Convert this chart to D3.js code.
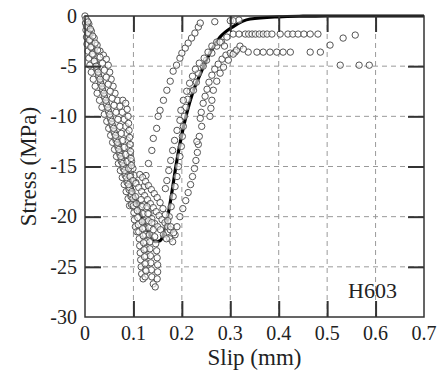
<html>
<head>
  <meta charset="utf-8">
  <script src="https://d3js.org/d3.v7.min.js"></script>
  <style>
    body { margin: 0; background: #fff; }
    svg text { font-family: 'Liberation Serif', 'Times New Roman', Tinos, monospace !important; }
  </style>
</head>
<body>
<script>
// axis ticks
var xTicks = [0, 0.1, 0.2, 0.3, 0.4, 0.5, 0.6, 0.7];
var yTicks = [0, -5, -10, -15, -20, -25, -30];

// model curve (slip mm, stress MPa)
var modelSlip   = [0.07, 0.088, 0.1, 0.12, 0.135, 0.145, 0.155, 0.163, 0.17, 0.176, 0.189, 0.2, 0.21, 0.222, 0.238, 0.258, 0.279, 0.306, 0.341, 0.4, 0.45, 0.5, 0.7];
var modelStress = [-12.4, -15.6, -17.6, -20.4, -21.9, -22.5, -22.4, -21.6, -20.2, -18.6, -14.6, -11.8, -9.7, -7.7, -5.8, -3.7, -2.1, -1.05, -0.3, -0.08, -0.02, 0, 0];

// test points, one array per loop branch: [slip, stress]
var envelope1 = [[0,0],[0.001,-0.7],[0.002,-1.4],[0.003,-2.1],[0.004,-2.8],[0.006,-3.5],[0.008,-4.2],[0.010,-4.9],[0.013,-5.6],[0.017,-6.3],[0.021,-7.0],[0.025,-7.7],[0.030,-8.4],[0.035,-9.1],[0.040,-9.8],[0.045,-10.5],[0.049,-11.2],[0.053,-11.9],[0.057,-12.6],[0.061,-13.3],[0.065,-14.0],[0.069,-14.7],[0.073,-15.4],[0.077,-16.1],[0.081,-16.8],[0.085,-17.5],[0.089,-18.2],[0.092,-18.9]];
var envelope2 = [[0.004,-0.5],[0.007,-1.2],[0.010,-1.9],[0.013,-2.6],[0.016,-3.3],[0.019,-4.0],[0.022,-4.7],[0.025,-5.4],[0.029,-6.1],[0.033,-6.8],[0.037,-7.5],[0.041,-8.2],[0.045,-8.9],[0.049,-9.6],[0.053,-10.3],[0.057,-11.0],[0.061,-11.7],[0.064,-12.4],[0.068,-13.1],[0.072,-13.8],[0.075,-14.5],[0.079,-15.2],[0.083,-15.9],[0.087,-16.6],[0.091,-17.3],[0.095,-18.0],[0.098,-18.7]];
var envelope3 = [[0.008,-0.8],[0.013,-1.5],[0.019,-2.2],[0.025,-2.9],[0.031,-3.5],[0.038,-3.9],[0.044,-4.3],[0.048,-4.9],[0.051,-5.6],[0.054,-6.3],[0.058,-7.0],[0.062,-7.7],[0.067,-8.4],[0.072,-9.0],[0.077,-9.6],[0.081,-10.3],[0.084,-11.0],[0.086,-11.7],[0.088,-12.4],[0.090,-13.1],[0.093,-13.8],[0.096,-14.5],[0.099,-15.2],[0.102,-15.9],[0.105,-16.6]];
var envelope4 = [[0.002,-0.3],[0.005,-1.0],[0.008,-1.7],[0.011,-2.4],[0.014,-3.1],[0.017,-3.8],[0.020,-4.5],[0.024,-5.2],[0.028,-5.9],[0.032,-6.6],[0.036,-7.3],[0.040,-8.0],[0.044,-8.7],[0.048,-9.4],[0.052,-10.1],[0.056,-10.8],[0.060,-11.5],[0.064,-12.2],[0.068,-12.9],[0.072,-13.6],[0.076,-14.3],[0.080,-15.0],[0.084,-15.7],[0.088,-16.4],[0.092,-17.1],[0.096,-17.8]];
var envelope5 = [[0.003,-1.0],[0.006,-1.7],[0.009,-2.4],[0.012,-3.1],[0.015,-3.8],[0.019,-4.5],[0.023,-5.0],[0.027,-5.6],[0.031,-6.3],[0.035,-7.0],[0.039,-7.7],[0.043,-8.4],[0.047,-9.1],[0.051,-9.8],[0.055,-10.5],[0.059,-11.2],[0.063,-11.9],[0.067,-12.6],[0.070,-13.3],[0.074,-14.0],[0.078,-14.7],[0.082,-15.4],[0.086,-16.1],[0.090,-16.8]];
var envelope6 = [[0.006,-0.6],[0.011,-1.3],[0.016,-2.0],[0.021,-2.7],[0.026,-3.4],[0.031,-4.1],[0.036,-4.7],[0.040,-5.4],[0.044,-6.1],[0.048,-6.8],[0.052,-7.5],[0.056,-8.2],[0.060,-8.9],[0.064,-9.6],[0.068,-10.3],[0.072,-11.0],[0.075,-11.7],[0.078,-12.4],[0.081,-13.1],[0.084,-13.8],[0.087,-14.5],[0.090,-15.2],[0.094,-15.9]];
var column1 = [[0.078,-8.4],[0.084,-8.7],[0.087,-9.3],[0.089,-10.0],[0.090,-10.7],[0.091,-11.4],[0.092,-12.1],[0.093,-12.8],[0.094,-13.5],[0.095,-14.2],[0.096,-14.9]];
var loopA = [[0.122,-17.0],[0.126,-15.9],[0.131,-14.7],[0.138,-13.4],[0.141,-12.2],[0.148,-11.2],[0.151,-10.0],[0.155,-9.4],[0.162,-8.4],[0.169,-7.4],[0.176,-6.5],[0.182,-5.5],[0.189,-4.9],[0.196,-4.2],[0.200,-3.7],[0.207,-3.2],[0.213,-2.7],[0.220,-2.2],[0.227,-1.7],[0.234,-1.1],[0.238,-0.7],[0.268,-0.57],[0.300,-0.47],[0.306,-0.47],[0.318,-0.4]];
var loopB = [[0.170,-21.5],[0.175,-22.2],[0.181,-22.5],[0.186,-21.8],[0.190,-21.0],[0.196,-20.0],[0.202,-19.2],[0.208,-18.4],[0.213,-17.6],[0.218,-16.8],[0.222,-16.0],[0.226,-15.2],[0.229,-14.4],[0.232,-13.6],[0.234,-12.8],[0.231,-12.5],[0.236,-12.0],[0.241,-11.0],[0.238,-10.2],[0.240,-9.6],[0.244,-8.7],[0.248,-8.0],[0.252,-7.3],[0.256,-6.6],[0.262,-5.9],[0.268,-5.3],[0.275,-4.8],[0.283,-4.3],[0.291,-3.9],[0.300,-3.7],[0.310,-3.6],[0.337,-3.6],[0.355,-3.6],[0.368,-3.6],[0.382,-3.6],[0.396,-3.6],[0.409,-3.6],[0.424,-3.6],[0.465,-3.6],[0.486,-3.6],[0.506,-2.9],[0.533,-2.2],[0.558,-1.9]];
var loopB2 = [[0.258,-10.0],[0.260,-9.2],[0.262,-8.4],[0.265,-7.4],[0.272,-6.5],[0.279,-5.7],[0.286,-5.1],[0.296,-4.4],[0.306,-3.8],[0.313,-3.4],[0.320,-3.0],[0.327,-3.3]];
var loopC = [[0.170,-21.0],[0.174,-20.0],[0.178,-19.0],[0.182,-18.0],[0.186,-17.0],[0.190,-16.0],[0.193,-15.0],[0.196,-14.0],[0.199,-13.0],[0.201,-12.0],[0.203,-11.0],[0.205,-10.0],[0.208,-9.1],[0.212,-8.3],[0.217,-7.5],[0.224,-7.4],[0.230,-6.6],[0.234,-5.7],[0.244,-5.0],[0.251,-4.4],[0.262,-3.7],[0.272,-3.0],[0.282,-2.6],[0.293,-2.1],[0.306,-1.8],[0.318,-1.8],[0.331,-1.8],[0.338,-1.8],[0.345,-1.8],[0.352,-1.8],[0.360,-1.8],[0.368,-1.8],[0.376,-1.8],[0.386,-1.8],[0.403,-1.8],[0.419,-1.8],[0.429,-1.8],[0.440,-1.8],[0.452,-1.8],[0.465,-1.8],[0.481,-1.8]];
var loopD = [[0.166,-17.2],[0.169,-16.4],[0.173,-15.4],[0.177,-14.4],[0.181,-13.4],[0.185,-12.4],[0.190,-11.4],[0.196,-10.4],[0.198,-9.4],[0.203,-8.4],[0.210,-7.5],[0.216,-6.7],[0.222,-6.0],[0.228,-5.3],[0.236,-4.7],[0.246,-4.2],[0.254,-3.6],[0.262,-3.0],[0.272,-2.6],[0.279,-2.6],[0.288,-3.0]];
var shelf1 = [[0.093,-16.0],[0.099,-16.4],[0.105,-16.7],[0.111,-17.1],[0.117,-17.5],[0.123,-17.9],[0.129,-18.3],[0.135,-18.7],[0.141,-19.1],[0.147,-19.5],[0.153,-19.9],[0.159,-20.3],[0.165,-20.6],[0.171,-21.0],[0.176,-21.3]];
var shelf2 = [[0.113,-15.8],[0.119,-16.1],[0.125,-16.5],[0.131,-16.9],[0.137,-17.3],[0.143,-17.7],[0.149,-18.1],[0.155,-18.6],[0.161,-19.2],[0.166,-19.8],[0.171,-20.4],[0.177,-21.0],[0.183,-21.6]];
var shelf3 = [[0.096,-18.8],[0.102,-19.1],[0.108,-19.4],[0.114,-19.0],[0.120,-18.8],[0.126,-19.2],[0.132,-19.7],[0.138,-20.2],[0.144,-20.7],[0.150,-21.0],[0.156,-21.3],[0.162,-21.8],[0.168,-22.2]];
var lowLoop0 = [[0.097,-17.5],[0.099,-18.2],[0.100,-18.9],[0.101,-19.6],[0.102,-20.3],[0.104,-21.0],[0.107,-21.5]];
var lowLoop1 = [[0.104,-18.0],[0.106,-18.7],[0.108,-19.4],[0.109,-20.1],[0.110,-20.8],[0.111,-21.5],[0.112,-22.2],[0.113,-22.9],[0.114,-23.6],[0.115,-24.3],[0.116,-25.0],[0.117,-25.7],[0.120,-26.2],[0.124,-26.0],[0.125,-25.3],[0.126,-24.6],[0.126,-23.9],[0.126,-23.2],[0.126,-22.5],[0.125,-21.8],[0.124,-21.1],[0.122,-20.4],[0.120,-19.7],[0.118,-19.0],[0.116,-18.3]];
var lowLoop2 = [[0.128,-19.0],[0.130,-19.7],[0.131,-20.4],[0.132,-21.1],[0.133,-21.8],[0.134,-22.5],[0.134,-23.2],[0.135,-23.9],[0.136,-24.6],[0.137,-25.3],[0.138,-26.0],[0.141,-26.7],[0.145,-27.0],[0.149,-26.2],[0.150,-25.5],[0.150,-24.8],[0.149,-24.1],[0.148,-23.4],[0.146,-22.7],[0.144,-22.0],[0.141,-21.3],[0.138,-20.6]];
var lowLoop3 = [[0.118,-20.5],[0.119,-21.2],[0.120,-21.9],[0.121,-22.6],[0.122,-23.3],[0.123,-24.0],[0.124,-24.7],[0.126,-25.4]];
var tailPoints = [[0.527,-4.9],[0.566,-4.9],[0.587,-4.9]];

var allLoops = [envelope1, envelope2, envelope3, envelope4, envelope5, envelope6, column1, loopA, loopB, loopB2, loopC, loopD,
                shelf1, shelf2, shelf3, lowLoop0, lowLoop1, lowLoop2, lowLoop3, tailPoints];

var width = 445, height = 375;
var serifFont = "'Liberation Serif', monospace";
var svg = d3.select("body").append("svg")
    .attr("width", width)
    .attr("height", height);

var x = d3.scaleLinear().domain([0, 0.7]).range([85, 424]);
var y = d3.scaleLinear().domain([-30, 0]).range([317, 16]);

// dashed grid
var grid = svg.append("g").attr("stroke", "#9a9a9a").attr("stroke-width", 1).attr("stroke-dasharray", "5,4");
grid.selectAll(".gx").data(xTicks.slice(1, -1)).enter().append("line")
    .attr("x1", function(d) { return x(d); }).attr("x2", function(d) { return x(d); })
    .attr("y1", y(0)).attr("y2", y(-30));
grid.selectAll(".gy").data(yTicks.slice(1, -1)).enter().append("line")
    .attr("y1", function(d) { return y(d); }).attr("y2", function(d) { return y(d); })
    .attr("x1", x(0)).attr("x2", x(0.7));

// model line (circles drawn over it)
var model = modelSlip.map(function(s, i) { return [s, modelStress[i]]; });
svg.append("path").datum(model)
    .attr("fill", "none")
    .attr("stroke", "#000")
    .attr("stroke-width", 3.2)
    .attr("d", d3.line()
        .x(function(d) { return x(d[0]); })
        .y(function(d) { return y(d[1]); })
        .curve(d3.curveMonotoneX));

// circles
var pts = [];
allLoops.forEach(function(loop) { loop.forEach(function(p) { pts.push(p); }); });
svg.append("g").selectAll("circle").data(pts).enter().append("circle")
    .attr("cx", function(d) { return x(d[0]); })
    .attr("cy", function(d) { return y(d[1]); })
    .attr("r", 3.2)
    .attr("fill", "#fff")
    .attr("fill-opacity", 0.6)
    .attr("stroke", "#555")
    .attr("stroke-width", 1);

// axes, ticks pointing inward
var fmtX = function(d) { return d === 0 ? "0" : d3.format(".1f")(d); };
var fmtY = function(d) { return String(d); };

function styleAxis(g) {
  g.select(".domain").remove();
  g.selectAll(".tick line").attr("stroke", "#333").attr("stroke-width", 2);
}

svg.append("g").attr("transform", "translate(0," + y(-30) + ")")
    .call(d3.axisBottom(x).tickValues(xTicks.slice(1, -1)).tickSize(-16).tickSizeOuter(0).tickFormat(""))
    .call(styleAxis);
svg.append("g").attr("transform", "translate(0," + y(0) + ")")
    .call(d3.axisTop(x).tickValues(xTicks.slice(1, -1)).tickSize(-16).tickSizeOuter(0).tickFormat(""))
    .call(styleAxis);
svg.append("g").attr("transform", "translate(" + x(0) + ",0)")
    .call(d3.axisLeft(y).tickValues(yTicks.slice(1, -1)).tickSize(-16).tickSizeOuter(0).tickFormat(""))
    .call(styleAxis);
svg.append("g").attr("transform", "translate(" + x(0.7) + ",0)")
    .call(d3.axisRight(y).tickValues(yTicks.slice(1, -1)).tickSize(-16).tickSizeOuter(0).tickFormat(""))
    .call(styleAxis);

// tick labels
svg.selectAll(".xl").data(xTicks).enter().append("text")
    .attr("x", function(d) { return x(d); })
    .attr("y", 340)
    .attr("text-anchor", "middle")
    .attr("fill", "#222")
    .style("font-family", serifFont)
    .style("font-size", "20px")
    .text(fmtX);
svg.selectAll(".yl").data(yTicks).enter().append("text")
    .attr("x", x(0) - 8)
    .attr("y", function(d) { return y(d); })
    .attr("dy", "0.34em")
    .attr("text-anchor", "end")
    .attr("fill", "#222")
    .style("font-family", serifFont)
    .style("font-size", "20px")
    .text(fmtY);

// frame
svg.append("rect")
    .attr("x", x(0)).attr("y", y(0))
    .attr("width", x(0.7) - x(0)).attr("height", y(-30) - y(0))
    .attr("fill", "none").attr("stroke", "#333").attr("stroke-width", 1.5);

// titles
svg.append("text")
    .attr("x", (x(0) + x(0.7)) / 2).attr("y", 365)
    .attr("text-anchor", "middle")
    .attr("fill", "#222")
    .style("font-family", serifFont)
    .style("font-size", "23px")
    .text("Slip (mm)");
svg.append("text")
    .attr("transform", "translate(36," + ((y(0) + y(-30)) / 2) + ") rotate(-90)")
    .attr("text-anchor", "middle")
    .attr("fill", "#222")
    .style("font-family", serifFont)
    .style("font-size", "23px")
    .text("Stress (MPa)");
svg.append("text")
    .attr("x", 348).attr("y", 298)
    .attr("fill", "#222")
    .style("font-family", serifFont)
    .style("font-size", "22px")
    .text("H603");
</script>
</body>
</html>
